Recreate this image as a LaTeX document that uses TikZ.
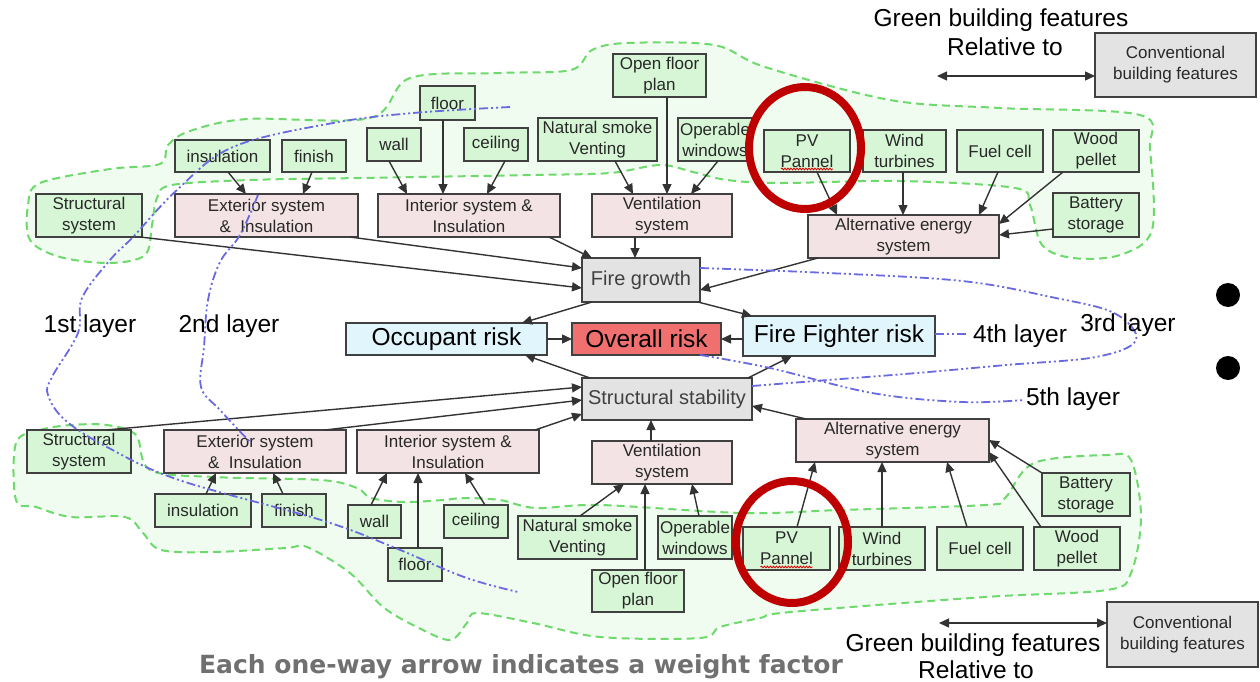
\documentclass[tikz,border=0pt]{standalone}
\usepackage{fontspec}
\setmainfont{Liberation Sans}
\newfontfamily\capfont{DejaVu Sans}
\usetikzlibrary{arrows.meta,decorations.pathmorphing}
\definecolor{gfill}{RGB}{214,246,214}
\definecolor{pfill}{RGB}{243,227,229}
\definecolor{grfill}{RGB}{227,227,227}
\definecolor{bfill}{RGB}{224,245,252}
\definecolor{rfill}{RGB}{240,112,112}
\definecolor{bord}{RGB}{64,64,64}
\definecolor{blobfill}{RGB}{240,252,240}
\definecolor{blobline}{RGB}{110,218,110}
\definecolor{layerblue}{RGB}{105,105,225}
\definecolor{ringred}{RGB}{190,0,0}
\definecolor{capgray}{RGB}{112,112,112}
\definecolor{txt}{RGB}{40,40,40}
\tikzset{
 bxbase/.style={draw=bord, line width=1.4pt, inner sep=0pt, outer sep=0pt, align=center, text=txt, font=\fontsize{17}{21}\selectfont},
 gbox/.style={bxbase, fill=gfill},
 pbox/.style={bxbase, fill=pfill},
 cbox/.style={bxbase, fill=grfill},
 mbox/.style={bxbase, fill=grfill, text=black!75, font=\fontsize{20}{24}\selectfont},
 bbox/.style={bxbase, fill=bfill, text=black, font=\fontsize{24.5}{29}\selectfont},
 rbox/.style={bxbase, fill=rfill, text=black, font=\fontsize{24.5}{29}\selectfont},
 arr/.style={draw=black!80, line width=1.4pt, -{Triangle[length=10pt,width=9pt]}},
 dbl/.style={draw=black!80, line width=1.4pt, {Triangle[length=10pt,width=9pt]}-{Triangle[length=10pt,width=9pt]}},
 blob/.style={fill=blobfill, draw=blobline, line width=2pt, dash pattern=on 8pt off 5pt},
 layercurve/.style={draw=layerblue, line width=1.8pt, dash pattern=on 9pt off 3pt on 2pt off 3pt on 2pt off 3pt},
 lab/.style={anchor=base, font=\fontsize{24.5}{29}\selectfont, text=black},
 ringmark/.style={draw=ringred, line width=8pt},
 squig/.style={draw=red!85!black, line width=0.8pt, decorate, decoration={snake, amplitude=0.9pt, segment length=3pt}},
}
\newcommand{\mybx}[7]{\node[#1, minimum width={(#5-#3)*1pt}, minimum height={(#6-#4)*1pt}] (#2) at ({(#3+#5)/2},{(#4+#6)/2}) {#7};}
\begin{document}
\begin{tikzpicture}[x=1pt,y=-1pt]
\useasboundingbox (0,0) rectangle (1260,682);
\fill[white] (0,0) rectangle (1260,682);
% green regions
\draw[blob] plot[smooth cycle, tension=0.55] coordinates {(28,205) (40,183) (110,169) (160,164) (168,145) (190,131) (247,119) (370,118) (410,78) (500,73) (571,70) (592,50) (627,43) (714,45) (765,67) (890,100) (1000,108) (1140,115) (1150,150) (1152,230) (1120,255) (1073,258) (1042,245) (1030,205) (1015,188) (900,181) (780,183) (727,180) (693,172) (660,165) (610,173) (533,175) (360,178) (250,180) (172,185) (157,198) (152,225) (145,255) (110,263) (60,257) (30,240)};
\draw[blob] plot[smooth cycle, tension=0.55] coordinates {(16,443) (40,430) (71,425) (107,425) (136,435) (150,470) (214,477) (321,480) (357,488) (371,498) (404,502) (443,500) (464,498) (500,500) (536,508) (600,505) (743,513) (840,510) (985,505) (1005,498) (1034,463) (1107,455) (1131,460) (1141,517) (1131,573) (1107,590) (985,597) (791,612) (760,618) (720,627) (700,638) (600,637) (533,623) (477,613) (467,623) (450,640) (417,627) (383,607) (350,573) (307,547) (286,548) (214,552) (161,550) (143,533) (125,517) (71,517) (36,507) (16,500)};
% top boxes
\mybx{gbox}{tins}{175}{140}{270}{172}{insulation}
\mybx{gbox}{tfin}{282}{140}{346}{172}{finish}
\mybx{gbox}{twall}{367}{128}{421}{161}{wall}
\mybx{gbox}{tfloor}{420}{86}{475}{120}{floor}
\mybx{gbox}{tceil}{464}{128}{528}{161}{ceiling}
\mybx{gbox}{tnat}{538}{118}{657}{161}{Natural smoke\\Venting}
\mybx{gbox}{topen}{613}{54}{706}{97}{Open floor\\plan}
\mybx{gbox}{toper}{678}{118}{752}{161}{Operable\\windows}
\mybx{gbox}{tpv}{764}{130}{850}{172}{PV\\Pannel}
\mybx{gbox}{twind}{863}{130}{946}{172}{Wind\\turbines}
\mybx{gbox}{tfuel}{957}{130}{1043}{172}{Fuel cell}
\mybx{gbox}{twood}{1053}{130}{1139}{172}{Wood\\pellet}
\mybx{gbox}{tbat}{1053}{193}{1139}{237}{Battery\\storage}
\mybx{gbox}{tstruct}{36}{194}{142}{237}{Structural\\system}
\mybx{pbox}{text}{175}{194}{358}{237}{Exterior system\\\&~ Insulation}
\mybx{pbox}{tint}{378}{194}{560}{237}{Interior system \&\\Insulation}
\mybx{pbox}{tvent}{592}{194}{732}{237}{Ventilation\\system}
\mybx{pbox}{talt}{808}{215}{999}{258}{Alternative energy\\system}
\mybx{cbox}{tconv}{1095}{33}{1256}{97}{Conventional\\building features}
% middle
\mybx{mbox}{fire}{582}{258}{700}{302}{Fire growth}
\mybx{bbox}{occ}{346}{323}{547}{355}{Occupant risk}
\mybx{rbox}{overall}{572}{323}{721}{355}{Overall risk}
\mybx{bbox}{ff}{743}{316}{935}{356}{Fire Fighter risk}
\mybx{mbox}{ss}{582}{378}{752}{420}{Structural stability}
% bottom boxes
\mybx{gbox}{bstruct}{27}{430}{131}{473}{Structural\\system}
\mybx{pbox}{bext}{164}{430}{346}{473}{Exterior system\\\&~ Insulation}
\mybx{pbox}{bint}{357}{430}{539}{473}{Interior system \&\\Insulation}
\mybx{gbox}{bins}{155}{494}{251}{527}{insulation}
\mybx{gbox}{bfin}{262}{494}{326}{527}{finish}
\mybx{gbox}{bwall}{348}{505}{401}{538}{wall}
\mybx{gbox}{bceil}{444}{505}{508}{538}{ceiling}
\mybx{gbox}{bfloor}{388}{548}{442}{581}{floor}
\mybx{pbox}{bvent}{592}{441}{732}{484}{Ventilation\\system}
\mybx{gbox}{bnat}{518}{516}{637}{559}{Natural smoke\\Venting}
\mybx{gbox}{boper}{658}{516}{732}{559}{Operable\\windows}
\mybx{gbox}{bopen}{592}{570}{684}{612}{Open floor\\plan}
\mybx{pbox}{balt}{796}{419}{989}{462}{Alternative energy\\system}
\mybx{gbox}{bpv}{743}{527}{830}{570}{PV\\Pannel}
\mybx{gbox}{bwind}{839}{527}{925}{570}{Wind\\turbines}
\mybx{gbox}{bfuel}{937}{527}{1023}{570}{Fuel cell}
\mybx{gbox}{bwood}{1034}{527}{1120}{570}{Wood\\pellet}
\mybx{gbox}{bbat}{1042}{473}{1130}{516}{Battery\\storage}
\mybx{cbox}{bconv}{1107}{602}{1258}{667}{Conventional\\building features}
% top arrows
\draw[arr] (228,0 |- tins.south) -- (246,0 |- text.north);
\draw[arr] (312,0 |- tfin.south) -- (303,0 |- text.north);
\draw[arr] (389,0 |- twall.south) -- (407,0 |- tint.north);
\draw[arr] (443,0 |- tfloor.south) -- (443,0 |- tint.north);
\draw[arr] (505,0 |- tceil.south) -- (487,0 |- tint.north);
\draw[arr] (615,0 |- tnat.south) -- (633,0 |- tvent.north);
\draw[arr] (667,0 |- topen.south) -- (667,0 |- tvent.north);
\draw[arr] (718,0 |- toper.south) -- (691,0 |- tvent.north);
\draw[arr] (635,0 |- tvent.south) -- (635,0 |- fire.north);
\draw[arr] (549,0 |- tint.south) -- (592,0 |- fire.north);
\draw[arr] (350,0 |- text.south) -- (fire.west |- 0,268);
\draw[arr] (140,0 |- tstruct.south) -- (fire.west |- 0,288);
\draw[arr] (818,0 |- talt.south) -- (fire.east |- 0,290);
\draw[arr] (817,0 |- tpv.south) -- (837,0 |- talt.north);
\draw[arr] (903,0 |- twind.south) -- (903,0 |- talt.north);
\draw[arr] (998,0 |- tfuel.south) -- (979,0 |- talt.north);
\draw[arr] (1063,0 |- twood.south) -- (talt.east |- 0,224);
\draw[arr] (tbat.west |- 0,229) -- (talt.east |- 0,235);
% middle arrows
\draw[arr] (592,0 |- fire.south) -- (522,0 |- occ.north);
\draw[arr] (698,0 |- fire.south) -- (752,0 |- ff.north);
\draw[arr] (occ.east) -- (overall.west |- occ.east);
\draw[arr] (ff.west |- overall.east) -- (overall.east);
\draw[arr] (590,0 |- ss.north) -- (525,0 |- occ.south);
\draw[arr] (748,0 |- ss.north) -- (792,0 |- ff.south);
% bottom arrows
\draw[arr] (106,0 |- bstruct.north) -- (ss.west |- 0,387);
\draw[arr] (325,0 |- bext.north) -- (ss.west |- 0,400);
\draw[arr] (535,0 |- bint.north) -- (ss.west |- 0,414);
\draw[arr] (651,0 |- bvent.north) -- (651,0 |- ss.south);
\draw[arr] (806,0 |- balt.north) -- (ss.east |- 0,406);
\draw[arr] (206,0 |- bins.north) -- (216,0 |- bext.south);
\draw[arr] (283,0 |- bfin.north) -- (273,0 |- bext.south);
\draw[arr] (371,0 |- bwall.north) -- (387,0 |- bint.south);
\draw[arr] (418,0 |- bfloor.north) -- (418,0 |- bint.south);
\draw[arr] (485,0 |- bceil.north) -- (465,0 |- bint.south);
\draw[arr] (580,0 |- bnat.north) -- (624,0 |- bvent.south);
\draw[arr] (645,0 |- bopen.north) -- (645,0 |- bvent.south);
\draw[arr] (699,0 |- boper.north) -- (692,0 |- bvent.south);
\draw[arr] (797,0 |- bpv.north) -- (815,0 |- balt.south);
\draw[arr] (882,0 |- bwind.north) -- (882,0 |- balt.south);
\draw[arr] (967,0 |- bfuel.north) -- (947,0 |- balt.south);
\draw[arr] (1041,0 |- bwood.north) -- (balt.east |- 0,452);
\draw[arr] (bbat.north west) -- (balt.east |- 0,440);
% relative-to arrows
\coordinate (tl) at (937,76);
\draw[dbl] (tl) -- (tconv.west |- tl);
\coordinate (bl) at (939,623);
\draw[dbl] (bl) -- (bconv.west |- bl);
% layer curves
\draw[layercurve] plot[smooth, tension=0.6] coordinates {(510,107) (413,113) (333,123) (233,147) (177,190) (133,237) (110,260) (82,298) (78,333) (52,377) (48,395) (65,420) (107,447) (179,480) (321,520) (393,547) (464,577) (518,592)};
\draw[layercurve] plot[smooth, tension=0.6] coordinates {(258,195) (240,235) (220,262) (208,300) (204,347) (201,387) (220,410) (250,442)};
\draw[layercurve] plot[smooth, tension=0.6] coordinates {(fire.east |- 0,268) (828,273) (962,281) (1051,297) (1114,313) (1136,340) (1096,357) (1006,365) (917,373) (828,380) (ss.east |- 0,386)};
\coordinate (l4end) at (968,334);
\draw[layercurve] (ff.east |- l4end) -- (l4end);
\draw[layercurve] plot[smooth, tension=0.6] coordinates {(700,0 |- overall.south) (770,368) (872,393) (962,402) (1024,400)};
% spelling squiggles
\draw[squig] ([xshift=-26pt,yshift=3pt]tpv.south) -- ([xshift=26pt,yshift=3pt]tpv.south);
\draw[squig] ([xshift=-26pt,yshift=3pt]bpv.south) -- ([xshift=26pt,yshift=3pt]bpv.south);
% labels
\node[lab] (tg1) at (1001,27) {Green building features};
\node[lab] (tg2) at (1005,56) {Relative to};
\node[lab] (bg1) at (973,651) {Green building features};
\node[lab] (bg2) at (976,678) {Relative to};
\node[lab] (l1) at (90,332) {1st layer};
\node[lab] (l2) at (229,332) {2nd layer};
\node[lab] (l4) at (1020,342) {4th layer};
\node[lab] (l3) at (1128,331) {3rd layer};
\node[lab] (l5) at (1073,405) {5th layer};
\node[anchor=base, font=\capfont\bfseries\fontsize{25}{30}\selectfont, text=capgray] (cap) at (521,673) {Each one-way arrow indicates a weight factor};
% bullets
\fill[black] (1228,295) circle[radius=12pt];
\fill[black] (1228,368) circle[radius=12pt];
% red rings
\draw[ringmark] (805,148) ellipse[x radius=56pt, y radius=61pt];
\draw[ringmark] (792,542) ellipse[x radius=56pt, y radius=61pt];
\end{tikzpicture}
\end{document}
